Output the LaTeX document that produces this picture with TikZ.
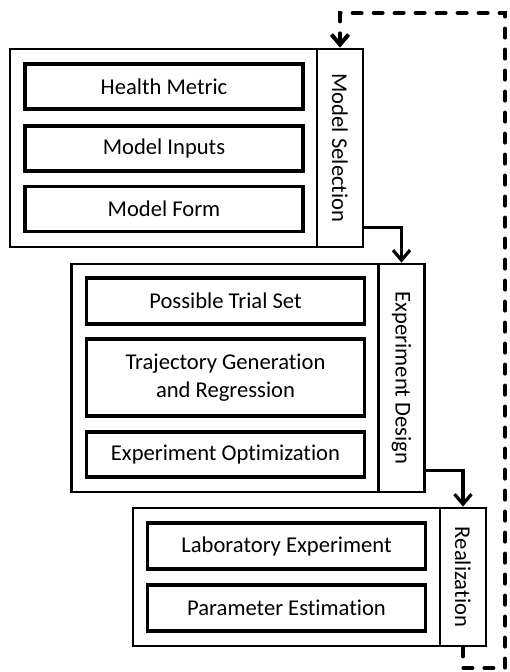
\documentclass[tikz,border=0pt]{standalone}
\usepackage{fontspec}
\setmainfont{Carlito}[Ligatures=CommonOff]
\usepackage{graphicx}
\usetikzlibrary{arrows.meta}

\tikzset{
	frame/.style={draw, line width=2.8pt, minimum width=353pt, inner sep=0pt},
	sidebar/.style={draw, line width=2.8pt, minimum width=46pt, inner sep=0pt, anchor=east},
	task/.style={draw, line width=3.2pt, minimum width=278pt, minimum height=45pt, inner sep=0pt, align=center},
	flow/.style={line width=3.2pt, -{Straight Barb[length=10pt, width=17pt]}},
	feedback/.style={line width=4pt, line cap=round, dash pattern=on 9pt off 12pt, -{Straight Barb[length=10pt, width=17pt]}}
}

\begin{document}
\begin{tikzpicture}[x=1pt, y=-1pt, font=\fontsize{22.6}{28}\selectfont]
			\useasboundingbox (0,0) rectangle (509,672);
			
			% model selection
			\node[frame, minimum height=198pt] (b1) at (186.5,148) {};
			\node[sidebar, minimum height=198pt] (ms) at (b1.east) {\rotatebox{-90}{Model Selection}};
			\node[task] (hm) at (164,86.5) {Health Metric};
			\node[task] (mi) at (164,148.5) {Model Inputs};
			\node[task] (mf) at (164,209) {Model Form};
			
			% experiment design
			\node[frame, minimum height=228pt] (b2) at (248,378) {};
			\node[sidebar, minimum height=228pt] (ed) at (b2.east) {\rotatebox{-90}{Experiment Design}};
			\node[task, minimum height=46pt] (pt) at (225.5,301) {Possible Trial Set};
			\node[task, minimum height=77pt] (tg) at (225.5,377.5) {Trajectory Generation\\and Regression};
			\node[task] (eo) at (225.5,454.5) {Experiment Optimization};
			
			% realization
			\node[frame, minimum height=138pt] (b3) at (309.5,577) {};
			\node[sidebar, minimum height=138pt] (re) at (b3.east) {\rotatebox{-90}{Realization}};
			\node[task, minimum height=46pt] (le) at (286.5,546) {Laboratory Experiment};
			\node[task, minimum height=46pt] (pe) at (286.5,608) {Parameter Estimation};
			
			\coordinate (lo) at (505,668);
			\coordinate (hi) at (505,13);
			
			\draw[flow] ([yshift=21pt]ms.south east) -| (ed.north);
			\draw[flow] ([yshift=23pt]ed.south east) -| (re.north);
			\draw[feedback] (re.south) |- (lo) -- (hi) -| (ms.north);
		\end{tikzpicture}
\end{document}
